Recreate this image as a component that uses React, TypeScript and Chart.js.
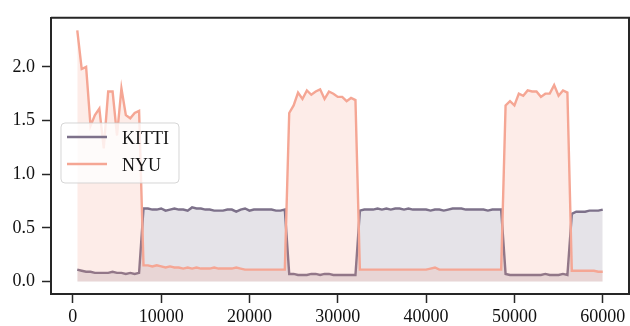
import React, { useEffect, useRef } from "react";
import { Chart, registerables } from "chart.js";

Chart.register(...registerables);

// training steps (sampled every 500)
const steps: number[] = Array.from({ length: 120 }, (_, i) => 500 * (i + 1));

const kitti: number[] = [
  // 500..7500
  0.11, 0.10, 0.09, 0.09, 0.08, 0.08, 0.08, 0.08, 0.09, 0.08, 0.08, 0.07, 0.08, 0.07, 0.08,
  // 8000..24000
  0.68, 0.68, 0.67, 0.67, 0.68, 0.66, 0.67, 0.68, 0.67, 0.67, 0.66, 0.69, 0.68, 0.68, 0.67, 0.67,
  0.66, 0.66, 0.66, 0.67, 0.67, 0.65, 0.67, 0.68, 0.66, 0.67, 0.67, 0.67, 0.67, 0.67, 0.66, 0.66, 0.67,
  // 24500..32000
  0.07, 0.07, 0.06, 0.06, 0.06, 0.07, 0.07, 0.06, 0.07, 0.07, 0.06, 0.06, 0.06, 0.06, 0.06, 0.06,
  // 32500..48500
  0.66, 0.67, 0.67, 0.67, 0.68, 0.67, 0.68, 0.67, 0.68, 0.68, 0.67, 0.68, 0.67, 0.67, 0.67, 0.67,
  0.66, 0.67, 0.67, 0.66, 0.67, 0.68, 0.68, 0.68, 0.67, 0.67, 0.67, 0.67, 0.67, 0.66, 0.67, 0.67, 0.67,
  // 49000..56000
  0.07, 0.06, 0.06, 0.06, 0.06, 0.06, 0.06, 0.06, 0.06, 0.07, 0.06, 0.06, 0.06, 0.07, 0.06,
  // 56500..60000
  0.63, 0.65, 0.65, 0.65, 0.66, 0.66, 0.66, 0.67,
];

const nyu: number[] = [
  // 500..7500
  2.34, 1.98, 2.00, 1.45, 1.55, 1.61, 1.24, 1.77, 1.77, 1.36, 1.80, 1.55, 1.52, 1.57, 1.59,
  // 8000..24000
  0.15, 0.15, 0.14, 0.15, 0.14, 0.13, 0.14, 0.13, 0.13, 0.12, 0.13, 0.12, 0.13, 0.12, 0.12, 0.12,
  0.13, 0.12, 0.12, 0.12, 0.12, 0.13, 0.12, 0.11, 0.11, 0.11, 0.11, 0.11, 0.11, 0.11, 0.11, 0.11, 0.11,
  // 24500..32000
  1.57, 1.64, 1.76, 1.70, 1.78, 1.74, 1.77, 1.79, 1.70, 1.77, 1.75, 1.72, 1.72, 1.68, 1.71, 1.69,
  // 32500..48500
  0.11, 0.11, 0.11, 0.11, 0.11, 0.11, 0.11, 0.11, 0.11, 0.11, 0.11, 0.11, 0.11, 0.11, 0.11, 0.11,
  0.12, 0.13, 0.11, 0.11, 0.11, 0.11, 0.11, 0.11, 0.11, 0.11, 0.11, 0.11, 0.11, 0.11, 0.11, 0.11, 0.11,
  // 49000..56000
  1.64, 1.68, 1.64, 1.75, 1.73, 1.78, 1.77, 1.77, 1.72, 1.75, 1.75, 1.83, 1.73, 1.78, 1.76,
  // 56500..60000
  0.10, 0.10, 0.10, 0.10, 0.10, 0.10, 0.09, 0.09,
];

const xTicks: number[] = [0, 10000, 20000, 30000, 40000, 50000, 60000];
const yTicks: number[] = [0, 0.5, 1.0, 1.5, 2.0];
const seriesNames: string[] = ["KITTI", "NYU"];

const KITTI_LINE = "rgb(125,113,138)";
const KITTI_FILL = "rgba(125,113,138,0.2)";
const NYU_LINE = "rgb(245,166,148)";
const NYU_FILL = "rgba(242,150,128,0.18)";
const AXIS = "#262626";
const FONT = "'Liberation Serif', 'Times New Roman', serif";

const frameAndLegend = {
  id: "frameAndLegend",
  afterDatasetsDraw(chart: any) {
    const { ctx, chartArea } = chart;
    ctx.save();
    // top / right spines
    ctx.strokeStyle = AXIS;
    ctx.lineWidth = 2;
    ctx.beginPath();
    ctx.moveTo(chartArea.left, chartArea.top);
    ctx.lineTo(chartArea.right, chartArea.top);
    ctx.lineTo(chartArea.right, chartArea.bottom);
    ctx.stroke();

    // legend
    const bx = 61, by = 123, bw = 118, bh = 60, r = 4;
    ctx.beginPath();
    ctx.moveTo(bx + r, by);
    ctx.lineTo(bx + bw - r, by);
    ctx.quadraticCurveTo(bx + bw, by, bx + bw, by + r);
    ctx.lineTo(bx + bw, by + bh - r);
    ctx.quadraticCurveTo(bx + bw, by + bh, bx + bw - r, by + bh);
    ctx.lineTo(bx + r, by + bh);
    ctx.quadraticCurveTo(bx, by + bh, bx, by + bh - r);
    ctx.lineTo(bx, by + r);
    ctx.quadraticCurveTo(bx, by, bx + r, by);
    ctx.closePath();
    ctx.fillStyle = "rgba(255,255,255,0.8)";
    ctx.fill();
    ctx.strokeStyle = "rgba(204,204,204,0.8)";
    ctx.lineWidth = 1;
    ctx.stroke();

    const colors = [KITTI_LINE, NYU_LINE];
    const ys = [137, 164];
    ctx.font = `18px ${FONT}`;
    ctx.textBaseline = "alphabetic";
    ctx.textAlign = "left";
    seriesNames.forEach((name, i) => {
      ctx.strokeStyle = colors[i];
      ctx.lineWidth = 2.6;
      ctx.beginPath();
      ctx.moveTo(67, ys[i]);
      ctx.lineTo(107, ys[i]);
      ctx.stroke();
      ctx.fillStyle = "#111";
      ctx.fillText(name, 122, ys[i] + 7);
    });
    ctx.restore();
  },
};

export default function App() {
  const ref = useRef<HTMLCanvasElement>(null);

  useEffect(() => {
    document.body.style.margin = "0";
    const canvas = ref.current;
    if (!canvas) return;
    const chart = new Chart(canvas, {
      type: "line",
      data: {
        datasets: [
          {
            label: seriesNames[0],
            data: steps.map((s, i) => ({ x: s, y: kitti[i] })),
            borderColor: KITTI_LINE,
            backgroundColor: KITTI_FILL,
            borderWidth: 2.4,
            pointRadius: 0,
            fill: "origin",
            tension: 0,
            order: 1,
          },
          {
            label: seriesNames[1],
            data: steps.map((s, i) => ({ x: s, y: nyu[i] })),
            borderColor: NYU_LINE,
            backgroundColor: NYU_FILL,
            borderWidth: 2.4,
            pointRadius: 0,
            fill: "origin",
            tension: 0,
            order: 0,
          },
        ],
      },
      options: {
        animation: false,
        responsive: false,
        maintainAspectRatio: false,
        layout: { padding: { top: 12, right: 1, left: 0, bottom: 0 } },
        plugins: { legend: { display: false }, tooltip: { enabled: false } },
        scales: {
          x: {
            type: "linear",
            min: -2475,
            max: 62975,
            afterBuildTicks: (scale: any) => {
              scale.ticks = xTicks.map((v) => ({ value: v }));
            },
            afterFit: (scale: any) => {
              scale.height = 32;
            },
            ticks: {
              autoSkip: false,
              maxRotation: 0,
              padding: 3,
              color: "#111",
              font: { family: FONT, size: 18 },
              callback: (v: any) => String(v),
            },
            grid: {
              display: true,
              drawOnChartArea: false,
              drawTicks: true,
              tickLength: 9,
              tickWidth: 1.5,
              tickColor: AXIS,
            },
            border: { display: true, color: AXIS, width: 2 },
          },
          y: {
            type: "linear",
            min: -0.117,
            max: 2.457,
            afterBuildTicks: (scale: any) => {
              scale.ticks = yTicks.map((v) => ({ value: v }));
            },
            afterFit: (scale: any) => {
              scale.width = 51;
            },
            ticks: {
              autoSkip: false,
              padding: 7,
              color: "#111",
              font: { family: FONT, size: 18 },
              callback: (v: any) => Number(v).toFixed(1),
            },
            grid: {
              display: true,
              drawOnChartArea: false,
              drawTicks: true,
              tickLength: 9,
              tickWidth: 1.5,
              tickColor: AXIS,
            },
            border: { display: true, color: AXIS, width: 2 },
          },
        },
      },
      plugins: [frameAndLegend],
    });
    return () => chart.destroy();
  }, []);

  return (
    <div style={{ width: 630, height: 326 }}>
      <canvas ref={ref} width={630} height={326} style={{ width: 630, height: 326, display: "block" }} />
    </div>
  );
}
